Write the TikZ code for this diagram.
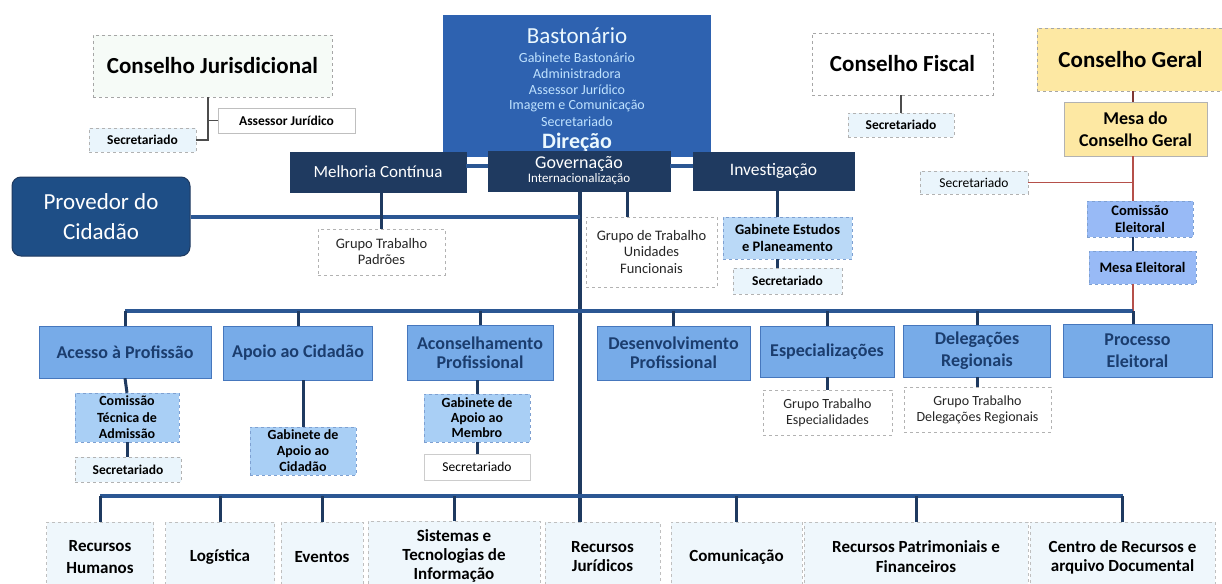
\documentclass[tikz,border=0pt]{standalone}
\usepackage{fontspec}
\setmainfont{Carlito}
\newcommand\myfs[2]{\fontsize{#1}{#2}\selectfont}
\definecolor{bastblue}{HTML}{2E62B0}
\definecolor{navy}{HTML}{1F3A60}
\definecolor{provblue}{HTML}{1E4E86}
\definecolor{midblue}{HTML}{77ABE8}
\definecolor{midborder}{HTML}{4677BD}
\definecolor{subblue}{HTML}{A9CFF5}
\definecolor{paleblue}{HTML}{EAF5FC}
\definecolor{botfill}{HTML}{EFF7FC}
\definecolor{yel}{HTML}{FDE8A3}
\definecolor{busblue}{HTML}{2B5793}
\definecolor{linkred}{HTML}{B5504A}
\definecolor{textnavy}{HTML}{1B3D6E}
\definecolor{bastsmall}{HTML}{BFE2FF}
\definecolor{cjfill}{HTML}{F6FBF7}
\tikzset{
  box/.style={inner sep=0pt, align=center, anchor=center},
  whitebox/.style={box, draw=gray!70, dashed, fill=white, text=black},
  palebox/.style={box, draw=gray!60, dashed, fill=paleblue, text=black, font=\bfseries\myfs{13.5}{16}},
  subbox/.style={box, draw=midborder!70, dashed, fill=subblue, text=black, font=\bfseries\myfs{14}{17}},
  midbox/.style={box, draw=midborder, fill=midblue, text=textnavy, font=\bfseries\myfs{18}{19}},
  darkbox/.style={box, draw=navy, fill=navy, text=white},
  botbox/.style={box, draw=gray!50, dashed, fill=botfill, text=black, font=\bfseries\myfs{17}{19}, minimum height=70pt},
  grpbox/.style={box, draw=gray!60, dashed, fill=white, text=black!85, font=\myfs{14.5}{16}},
  bus/.style={draw=busblue, line width=4pt},
  link/.style={draw=navy, line width=3pt},
  thinlink/.style={draw=gray!60!black, line width=1.4pt},
  redlink/.style={draw=linkred, line width=1.6pt},
  basttext/.style={text=bastsmall, font=\myfs{14}{16}, inner sep=0pt}
}
\begin{document}
\begin{tikzpicture}[x=1pt,y=-1pt]
\useasboundingbox (0,0) rectangle (1222,583);
\fill[white] (0,0) rectangle (1222,583);
\coordinate (tx) at (580,0);
\coordinate (gx) at (1133,0);
\coordinate (cjx) at (208,0);
\coordinate (bm) at (0,311);
\coordinate (bb) at (0,496);

% top left
\node[whitebox, fill=cjfill, minimum width=239pt, minimum height=62pt, font=\bfseries\myfs{23}{26}] (cj) at (212.5,66) {Conselho Jurisdicional};
\node[whitebox, solid, draw=gray!50, minimum width=137pt, minimum height=25pt, font=\bfseries\myfs{13.5}{16}] (aj) at (286.5,120.5) {Assessor Jurídico};
\node[palebox, minimum width=107pt, minimum height=24pt] (sj) at (142.5,140) {Secretariado};

% Bastonario
\node[box, fill=bastblue, minimum width=268pt, minimum height=142pt] (bast) at (577,86) {};
\node[text=white!92!cyan, font=\myfs{23}{26}, inner sep=0pt] (bt0) at (577,36) {Bastonário};
\node[basttext] (bt1) at (577,58) {Gabinete Bastonário};
\node[basttext] (bt2) at (577,74) {Administradora};
\node[basttext] (bt3) at (577,90) {Assessor Jurídico};
\node[basttext] (bt4) at (577,106) {Imagem e Comunicação};
\node[basttext] (bt5) at (577,122) {Secretariado};
\node[text=white!92!cyan, font=\bfseries\myfs{22}{24}, inner sep=0pt] (bt6) at (577,143) {Direção};

\node[darkbox, minimum width=176pt, minimum height=40pt, font=\myfs{17}{19}] (mc) at (378,172) {Melhoria Contínua};
\node[darkbox, minimum width=182pt, minimum height=40pt] (gov) at (579,171) {\myfs{18}{18}Governação\\[1pt]\myfs{13}{14}Internacionalização};
\node[darkbox, minimum width=161pt, minimum height=38pt, font=\myfs{17.5}{19}] (inv) at (773.5,171) {Investigação};
\draw[bus] (mc.east |- 0,166) -- (gov.west |- 0,166);
\draw[bus] (gov.east |- 0,166) -- (inv.west |- 0,166);

% Fiscal
\node[whitebox, minimum width=181pt, minimum height=62pt, font=\bfseries\myfs{23}{26}] (cf) at (902.5,64) {Conselho Fiscal};
\node[palebox, minimum width=106pt, minimum height=24pt] (sf) at (901,125) {Secretariado};

% Geral
\node[whitebox, fill=yel, minimum width=187pt, minimum height=63pt, font=\bfseries\myfs{23}{26}] (cg) at (1130.5,59.5) {Conselho Geral};
\node[whitebox, fill=yel, solid, draw=gray!60, minimum width=143pt, minimum height=54pt, font=\bfseries\myfs{18}{22}] (mcg) at (1135.5,129) {Mesa do\\Conselho Geral};
\node[palebox, font=\myfs{13.5}{16}, minimum width=108pt, minimum height=23pt] (sg) at (974,182.5) {Secretariado};
\node[subbox, fill=subblue!90!blue, minimum width=106pt, minimum height=36pt, font=\bfseries\myfs{14.5}{17}] (ce) at (1140,219) {Comissão\\Eleitoral};
\node[subbox, fill=subblue!90!blue, minimum width=107pt, minimum height=33pt, font=\bfseries\myfs{14.5}{17}] (me) at (1142.5,267.5) {Mesa Eleitoral};

% Provedor
\node[box, rounded corners=9pt, draw=navy, line width=1pt, fill=provblue, text=white, minimum width=178pt, minimum height=79pt, font=\myfs{23}{30}] (prov) at (101,216.5) {Provedor do\\Cidadão};

% second level groups
\node[grpbox, minimum width=127pt, minimum height=46pt] (gtp) at (381.5,252) {Grupo Trabalho\\Padrões};
\node[grpbox, minimum width=131pt, minimum height=70pt, font=\myfs{14.5}{16.5}] (gtu) at (651.5,252) {Grupo de Trabalho\\Unidades\\Funcionais};
\node[subbox, minimum width=129pt, minimum height=42pt, fill=subblue!80!white, font=\bfseries\myfs{14.5}{17}] (gep) at (787.5,238) {Gabinete Estudos\\e Planeamento};
\node[palebox, minimum width=109pt, minimum height=26pt] (se) at (787.5,281) {Secretariado};

% middle row
\node[midbox, minimum width=172pt, minimum height=52pt] (ap) at (125,352) {Acesso à Profissão};
\node[midbox, minimum width=149pt, minimum height=54pt] (ac) at (298,353) {Apoio ao Cidadão};
\node[midbox, minimum width=146pt, minimum height=55pt] (acp) at (480,352.5) {Aconselhamento\\Profissional};
\node[midbox, minimum width=153pt, minimum height=54pt] (dp) at (673.5,353) {Desenvolvimento\\Profissional};
\node[midbox, minimum width=134pt, minimum height=51pt] (es) at (827,351.5) {Especializações};
\node[midbox, minimum width=147pt, minimum height=52pt, font=\bfseries\myfs{18}{22}] (dr) at (977,351) {Delegações\\Regionais};
\node[midbox, minimum width=149pt, minimum height=53pt, font=\bfseries\myfs{18}{22}] (pe) at (1137.5,350.5) {Processo\\Eleitoral};

\node[subbox, minimum width=104pt, minimum height=49pt, font=\bfseries\myfs{14}{16.5}] (cta) at (127,417.5) {Comissão\\Técnica de\\Admissão};
\node[palebox, minimum width=106pt, minimum height=25pt] (sa) at (128,469.5) {Secretariado};
\node[subbox, minimum width=106pt, minimum height=48pt, font=\bfseries\myfs{14}{16}] (gac) at (303,451) {Gabinete de\\Apoio ao\\Cidadão};
\node[subbox, minimum width=106pt, minimum height=48pt, font=\bfseries\myfs{14}{15}] (gam) at (477,418) {Gabinete de\\Apoio ao\\Membro};
\node[whitebox, solid, draw=gray!40, font=\myfs{13.5}{16}, minimum width=106pt, minimum height=26pt] (sm) at (477,467) {Secretariado};
\node[grpbox, font=\myfs{14}{16}, minimum width=129pt, minimum height=45pt] (gte) at (827.5,412.5) {Grupo Trabalho\\Especialidades};
\node[grpbox, font=\myfs{14}{16}, minimum width=147pt, minimum height=45pt] (gtd) at (977.5,409.5) {Grupo Trabalho\\Delegações Regionais};

% bottom row
\node[botbox, minimum width=107pt, font=\bfseries\myfs{17}{22}] (rh) at (100,557) {Recursos\\Humanos};
\node[botbox, minimum width=109pt] (lg) at (220,557) {Logística};
\node[botbox, minimum width=82pt] (ev) at (322,557) {Eventos};
\node[botbox, minimum width=172pt] (st) at (454,556) {Sistemas e\\Tecnologias de\\Informação};
\node[botbox, minimum width=115pt] (rj) at (602.5,557) {Recursos\\Jurídicos};
\node[botbox, minimum width=131pt] (com) at (736.5,557) {Comunicação};
\node[botbox, minimum width=224pt, font=\bfseries\myfs{17}{20}] (rp) at (916,557) {Recursos Patrimoniais e\\Financeiros};
\node[botbox, minimum width=185pt] (cr) at (1122.5,557) {Centro de Recursos e\\arquivo Documental};

% connectors: Conselho Jurisdicional
\draw[thinlink] (cj.south -| cjx) -- (sj.east -| cjx) -- (sj.east);
\draw[thinlink] (aj.west -| cjx) -- (aj.west);
\draw[thinlink] (cf.south -| sf.north) -- (sf.north);

% Conselho Geral chain
\draw[redlink, draw=linkred!70!black] (cg.south -| gx) -- (mcg.north -| gx);
\draw[redlink] (mcg.south -| gx) -- (ce.north -| gx);
\draw[redlink] (sg.east) -- (sg.east -| gx);
\draw[thinlink, draw=navy] (ce.south -| gx) -- (me.north -| gx);
\draw[redlink] (me.south -| gx) -- (gx |- bm);

% trunk and Provedor
\draw[bus, draw=navy] (gov.south -| tx) -- (rj.north -| tx);
\draw[bus] (prov.east) -- (prov.east -| tx);
\draw[link] (mc.south -| gtp.north) -- (gtp.north);
\draw[link] (gov.south -| gtu.north) ++(-24.5,0) coordinate (gtux) -- (gtux |- gtu.north);
\draw[link] (inv.south -| gep.north) ++(-10,0) coordinate (gepx) -- (gepx |- gep.north);
\draw[link] (gep.south -| gepx) -- (se.north -| gepx);

% middle bus
\draw[bus] (ap.north |- bm) -- (gx |- bm);
\foreach \n in {ap,ac,acp,dp,es,dr}{\draw[link] (\n.north |- bm) -- (\n.north);}
\draw[link] (gx |- bm) -- (pe.north -| gx);
\draw[link] (ap.south) -- (cta.north);
\draw[link] (cta.south) -- (sa.north -| cta.south);
\draw[link] (ac.south -| gac.north) -- (gac.north);
\draw[link] (acp.south -| gam.north) -- (gam.north);
\draw[link] (gam.south) -- (sm.north);
\draw[link] (es.south -| gte.north) -- (gte.north);
\draw[link] (dr.south -| gtd.north) -- (gtd.north);

% bottom bus
\draw[bus] (rh.north |- bb) -- (cr.north |- bb);
\foreach \n in {rh,lg,ev,st,com,rp,cr}{\draw[link] (\n.north |- bb) -- (\n.north);}
\end{tikzpicture}
\end{document}
